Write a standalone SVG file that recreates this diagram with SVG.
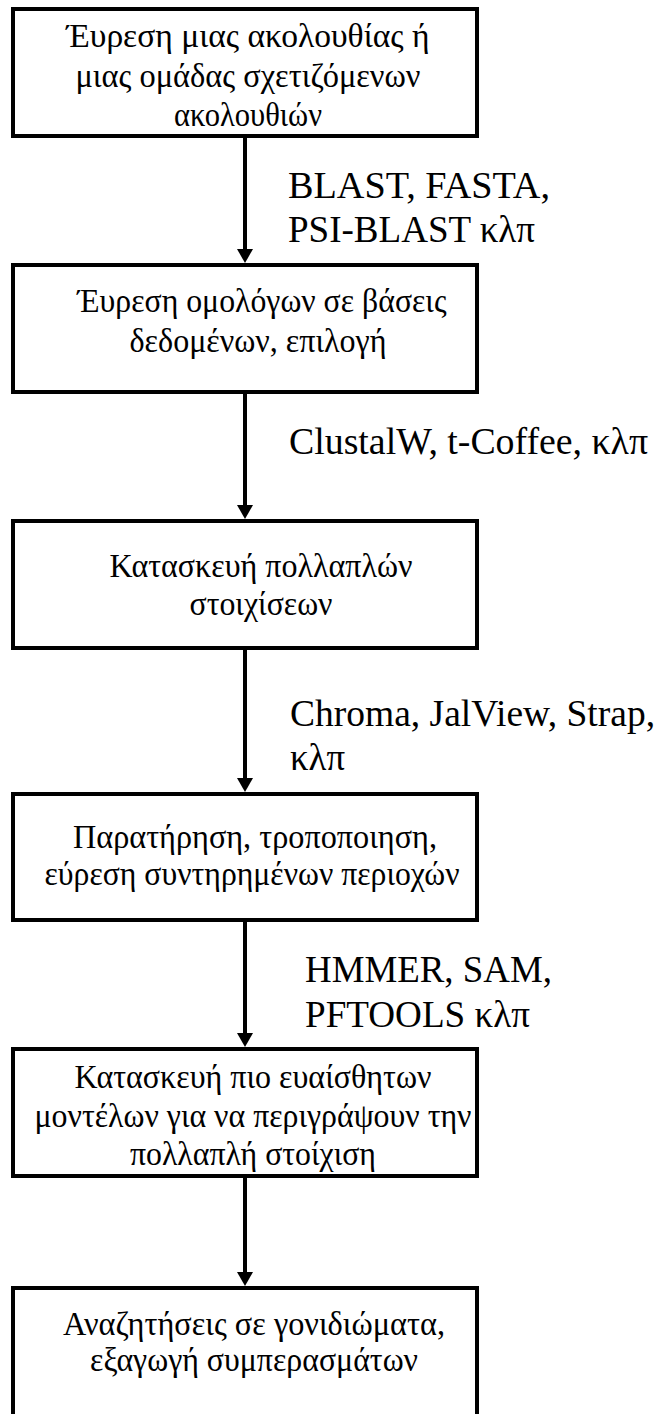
<svg xmlns="http://www.w3.org/2000/svg" width="661" height="1414" viewBox="0 0 661 1414" font-family="Liberation Serif, Times New Roman, serif">
  <style>
    .box { fill: #ffffff; stroke: #000000; stroke-width: 4; }
    .step { font-size: 34px; fill: #000000; text-anchor: middle; }
    .tool { font-size: 37px; fill: #000000; }
    .flow { stroke: #000000; stroke-width: 4; fill: none; }
  </style>
  <rect x="0" y="0" width="661" height="1414" fill="#ffffff"/>

  <!-- connectors between the steps, with their tool labels -->
  <g id="connectors">
    <line class="flow" x1="245" y1="138" x2="245" y2="250"/>
    <path d="M237,249 L253,249 L245,263 Z"/>
    <line class="flow" x1="245" y1="394" x2="245" y2="506"/>
    <path d="M237,505 L253,505 L245,519 Z"/>
    <line class="flow" x1="245" y1="650" x2="245" y2="779"/>
    <path d="M237,778 L253,778 L245,792 Z"/>
    <line class="flow" x1="245" y1="922" x2="245" y2="1034"/>
    <path d="M237,1033 L253,1033 L245,1047 Z"/>
    <line class="flow" x1="245" y1="1178" x2="245" y2="1273"/>
    <path d="M237,1272 L253,1272 L245,1286 Z"/>

    <text class="tool" x="288" y="198" textLength="262" lengthAdjust="spacingAndGlyphs">BLAST, FASTA,</text>
    <text class="tool" x="288" y="242" textLength="247" lengthAdjust="spacingAndGlyphs">PSI-BLAST κλπ</text>
    <text class="tool" x="289" y="454" textLength="359" lengthAdjust="spacingAndGlyphs">ClustalW, t-Coffee, κλπ</text>
    <text class="tool" x="290" y="726" textLength="365" lengthAdjust="spacingAndGlyphs">Chroma, JalView, Strap,</text>
    <text class="tool" x="290" y="770" textLength="55" lengthAdjust="spacingAndGlyphs">κλπ</text>
    <text class="tool" x="305" y="982" textLength="247" lengthAdjust="spacingAndGlyphs">HMMER, SAM,</text>
    <text class="tool" x="305" y="1027" textLength="225" lengthAdjust="spacingAndGlyphs">PFTOOLS κλπ</text>
  </g>

  <g id="step1">
    <rect class="box" x="13" y="9" width="464" height="127"/>
    <text class="step" x="248" y="47" textLength="363" lengthAdjust="spacingAndGlyphs">Έυρεση μιας ακολουθίας ή</text>
    <text class="step" x="248" y="87" textLength="345" lengthAdjust="spacingAndGlyphs">μιας ομάδας σχετιζόμενων</text>
    <text class="step" x="248" y="126" textLength="148" lengthAdjust="spacingAndGlyphs">ακολουθιών</text>
  </g>

  <g id="step2">
    <rect class="box" x="13" y="265" width="464" height="127"/>
    <text class="step" x="262" y="312" textLength="369" lengthAdjust="spacingAndGlyphs">Έυρεση ομολόγων σε βάσεις</text>
    <text class="step" x="258" y="352" textLength="257" lengthAdjust="spacingAndGlyphs">δεδομένων, επιλογή</text>
  </g>

  <g id="step3">
    <rect class="box" x="13" y="521" width="464" height="127"/>
    <text class="step" x="261" y="577" textLength="303" lengthAdjust="spacingAndGlyphs">Κατασκευή πολλαπλών</text>
    <text class="step" x="261" y="615" textLength="143" lengthAdjust="spacingAndGlyphs">στοιχίσεων</text>
  </g>

  <g id="step4">
    <rect class="box" x="13" y="794" width="464" height="126"/>
    <text class="step" x="255" y="848" textLength="364" lengthAdjust="spacingAndGlyphs">Παρατήρηση, τροποποιηση,</text>
    <text class="step" x="252" y="885" textLength="415" lengthAdjust="spacingAndGlyphs">εύρεση συντηρημένων περιοχών</text>
  </g>

  <g id="step5">
    <rect class="box" x="13" y="1049" width="464" height="127"/>
    <text class="step" x="253" y="1088" textLength="357" lengthAdjust="spacingAndGlyphs">Κατασκευή πιο ευαίσθητων</text>
    <text class="step" x="253" y="1127" textLength="437" lengthAdjust="spacingAndGlyphs">μοντέλων για να περιγράψουν την</text>
    <text class="step" x="253" y="1165" textLength="246" lengthAdjust="spacingAndGlyphs">πολλαπλή στοίχιση</text>
  </g>

  <g id="step6">
    <rect class="box" x="13" y="1288" width="464" height="140"/>
    <text class="step" x="254" y="1335" textLength="382" lengthAdjust="spacingAndGlyphs">Αναζητήσεις σε γονιδιώματα,</text>
    <text class="step" x="254" y="1371" textLength="328" lengthAdjust="spacingAndGlyphs">εξαγωγή συμπερασμάτων</text>
  </g>
</svg>
